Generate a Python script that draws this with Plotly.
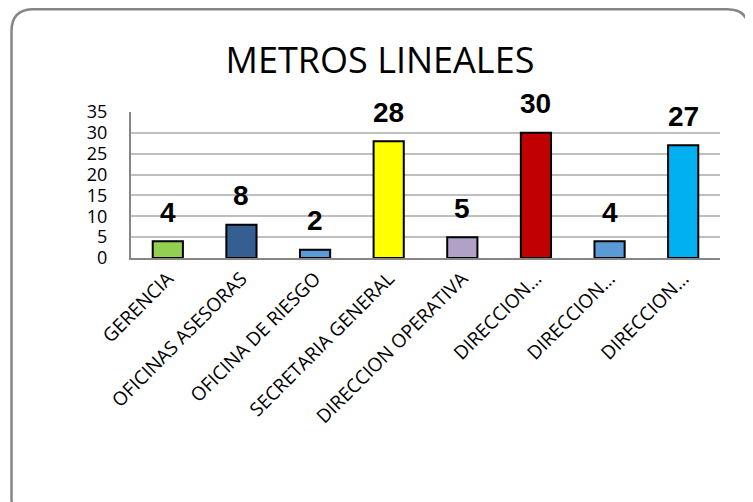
import plotly.graph_objects as go

categories = ["GERENCIA", "OFICINAS ASESORAS", "OFICINA DE RIESGO", "SECRETARIA GENERAL",
              "DIRECCION OPERATIVA", "DIRECCION...", "DIRECCION... ", "DIRECCION...  "]
tick_labels = ["GERENCIA", "OFICINAS ASESORAS", "OFICINA DE RIESGO", "SECRETARIA GENERAL",
               "DIRECCION OPERATIVA", "DIRECCION…", "DIRECCION…", "DIRECCION…"]
values = [4, 8, 2, 28, 5, 30, 4, 27]
colors = ["#92D050", "#355F91", "#5B9BD5", "#FFFF00", "#B2A1C7", "#C00000", "#5B9BD5", "#00B0F0"]
y_ticks = [0, 5, 10, 15, 20, 25, 30, 35]

# page body has an 8px margin; the figure is sized to fit the window from there
OFF = 8
W, H = 753 - OFF, 502 - OFF
L, R, T, B = 131 - OFF, 33, 112 - OFF, 244
pw, ph = W - L - R, H - T - B

fig = go.Figure()
fig.add_trace(go.Bar(
    x=categories, y=values,
    marker=dict(color=colors, line=dict(color="black", width=2)),
    width=0.41,
    cliponaxis=False,
))

for c, v in zip(categories, values):
    fig.add_annotation(x=c, y=v, xref="x", yref="y", text=f"<b>{v}</b>",
                       showarrow=False, yanchor="middle", yshift=29,
                       font=dict(family="Liberation Sans", size=28, color="black"))

# rounded border in paper coords (figure pixel -> paper)
def px2x(px):
    return (px - L) / pw

def py2y(py):
    return (H - B - py) / ph

x0, x1 = px2x(11.5 - OFF), px2x(749 - OFF)
y0, y1 = py2y(1.3), py2y(512)
rx, ry = 22 / pw, 22 / ph
path = (f"M {x0+rx},{y0} L {x1-rx},{y0} Q {x1},{y0} {x1},{y0-ry} "
        f"L {x1},{y1+ry} Q {x1},{y1} {x1-rx},{y1} L {x0+rx},{y1} "
        f"Q {x0},{y1} {x0},{y1+ry} L {x0},{y0-ry} Q {x0},{y0} {x0+rx},{y0} Z")
fig.add_shape(type="path", path=path, xref="paper", yref="paper",
              line=dict(color="#868686", width=2.5), layer="below")

fig.update_layout(
    width=W, height=H,
    margin=dict(l=L, r=R, t=T, b=B, autoexpand=False),
    paper_bgcolor="white", plot_bgcolor="white",
    showlegend=False,
    title=dict(text="METROS LINEALES", x=(380 - 131) / pw, xanchor="center", xref="paper",
               y=1 - (60 - OFF) / H, yanchor="middle",
               font=dict(family="Open Sans", size=36, color="black")),
    xaxis=dict(
        tickmode="array", tickvals=categories, ticktext=tick_labels,
        tickangle=-45, tickfont=dict(family="Open Sans", size=19, color="black"),
        showline=True, linecolor="#868686", linewidth=2, ticks="",
        showgrid=False, automargin=False,
    ),
    yaxis=dict(
        range=[0, 35], tickvals=y_ticks, ticks="",
        tickfont=dict(family="Open Sans", size=18, color="black"),
        showgrid=True, gridcolor="#BFBFBF", gridwidth=2,
        showline=True, linecolor="#868686", linewidth=2,
        zeroline=False, ticklabelstandoff=18, automargin=False,
    ),
)

fig.write_html("out.html")
